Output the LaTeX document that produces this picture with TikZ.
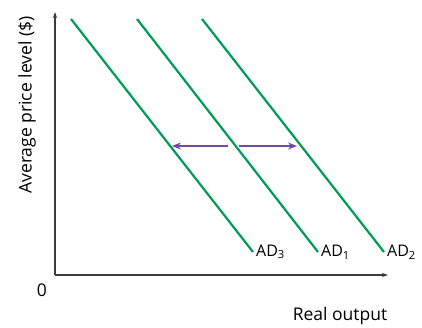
\documentclass[tikz,border=0pt]{standalone}
\usepackage{fontspec}
\setmainfont{Open Sans}
\usepackage{tikz}
\usetikzlibrary{arrows.meta, positioning, calc}
\definecolor{adGreen}{RGB}{0, 155, 85}
\definecolor{shiftPurple}{RGB}{112, 72, 170}
\definecolor{axisGray}{RGB}{60, 60, 60}
\tikzset{
  axis/.style={
    -{Stealth[length=6pt,width=4pt]},
    line width=1.3pt,
    color=axisGray
  },
  adline/.style={
    line width=2.2pt,
    color=adGreen
  },
  shiftarrow/.style={
    -{Stealth[length=9pt,width=7pt]},
    line width=2pt,
    color=shiftPurple
  },
  adlabel/.style={
    anchor=west, inner sep=1pt,
    font=\fontsize{16}{18}\selectfont
  },
  axislabel/.style={
    font=\fontsize{17.5}{20}\selectfont
  }
}

\begin{document}
\begin{tikzpicture}[x=1pt, y=-1pt]
\useasboundingbox (0,0) rectangle (422,328);

% --- Axes ---
\coordinate (origin) at (55,275);
\coordinate (ytop) at (55,12);
\coordinate (xend) at (388,275);
\draw[axis] (origin) -- (ytop);
\draw[axis] (origin) -- (xend);
\node[axislabel] (zero) at (42,290) {0};
\node[axislabel] (xlabel) at (340,316) {Real output};
\node[axislabel, rotate=90] (ylabel) at (27,105) {Average price level (\$)};

% --- AD curves ---
\coordinate (ad3top) at (71,19);
\coordinate (ad3bot) at (253,252);
\coordinate (ad1top) at (137,19);
\coordinate (ad1bot) at (318,252);
\coordinate (ad2top) at (202,19);
\coordinate (ad2bot) at (384,252);
\draw[adline] (ad3top) -- (ad3bot);
\draw[adline] (ad1top) -- (ad1bot);
\draw[adline] (ad2top) -- (ad2bot);
\node[adlabel, right=2pt of ad3bot] (ad3) {AD\textsubscript{3}};
\node[adlabel, right=2pt of ad1bot] (ad1) {AD\textsubscript{1}};
\node[adlabel, right=2pt of ad2bot] (ad2) {AD\textsubscript{2}};

% --- shift arrows ---
\coordinate (lefttail) at (228,146);
\coordinate (lefttip) at (172,146);
\coordinate (righttail) at (239,146);
\coordinate (righttip) at (297,146);
\draw[shiftarrow] (lefttail) -- (lefttip);
\draw[shiftarrow] (righttail) -- (righttip);

\end{tikzpicture}
\end{document}
